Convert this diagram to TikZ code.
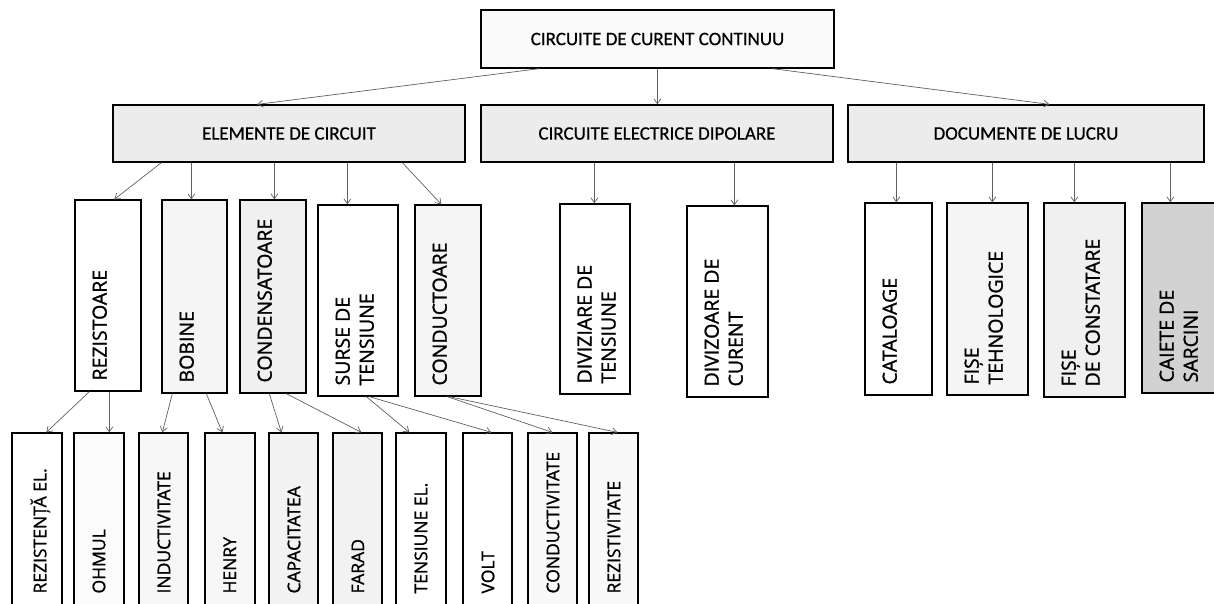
\documentclass[tikz,border=0pt]{standalone}
\usepackage{fontspec}
\setmainfont{Carlito}[FakeBold=0.6]
\newfontfamily\vsans{Open Sans}[FakeBold=1.2]
\usetikzlibrary{arrows.meta}

\begin{document}
\begin{tikzpicture}[x=1pt,y=-1pt,
  hbox/.style={draw, line width=1.3pt, inner sep=0pt, font=\fontsize{19}{22}\selectfont},
  vbox/.style={draw, line width=1.3pt, inner sep=0pt},
  vtxt/.style={rotate=90, anchor=north west, inner sep=0pt, align=left, font=\vsans\fontsize{19.5}{24}\selectfont},
  stxt/.style={vtxt, font=\vsans\fontsize{17.5}{21}\selectfont},
  conn/.style={draw=gray!75!black, line width=0.7pt, -{Straight Barb[length=5pt,width=7pt]}}]
  \useasboundingbox (0,0) rectangle (1214,603);
  \clip (0,0) rectangle (1214,603);

  \node[hbox, fill=gray!4, minimum width=353pt, minimum height=58pt] (cdc) at (657.5,39) {CIRCUITE DE CURENT CONTINUU};
  \node[hbox, fill=gray!15, minimum width=352pt, minimum height=57pt] (elem) at (289,133.5) {ELEMENTE DE CIRCUIT};
  \node[hbox, fill=gray!15, minimum width=352pt, minimum height=57pt] (dipol) at (657,133.5) {CIRCUITE ELECTRICE DIPOLARE};
  \node[hbox, fill=gray!15, minimum width=356pt, minimum height=57pt] (docs) at (1026,133.5) {DOCUMENTE DE LUCRU};

  \foreach \n/\l/\r/\t/\b/\c/\s in {rez/75/141/200/391/white/REZISTOARE,
      bob/162/227/200/393/gray!8/BOBINE,
      cond/240/306/200/393/gray!12/CONDENSATOARE,
      surse/318/398/205/396/white/{SURSE DE\\TENSIUNE},
      condu/415/481/205/396/gray!8/CONDUCTOARE,
      diviz/560/630/204/394/white/{DIVIZIARE DE\\TENSIUNE},
      divcur/687/768/206/397/white/{DIVIZOARE DE\\CURENT},
      cat/865/932/203/395/white/CATALOAGE,
      fte/947/1028/203/395/gray!8/{FIȘE\\TEHNOLOGICE},
      fco/1044/1125/203/397/gray!12/{FIȘE\\DE CONSTATARE},
      cai/1142/1230/203/393/gray!35/{CAIETE DE\\SARCINI}}{
    \node[vbox, fill=\c, minimum width={(\r-\l)*1pt}, minimum height={(\b-\t)*1pt}] (\n) at ({(\l+\r)/2},{(\t+\b)/2}) {};
    \node[vtxt] (\n-t) at ([xshift=18pt,yshift=11pt]\n.south west) {\s};
  }

  \foreach \n/\l/\r/\c/\s in {rel/12/62/white/REZISTENȚĂ EL.,
      ohm/74/124/gray!3/OHMUL,
      ind/139/188/gray!6/INDUCTIVITATE,
      hen/205/255/gray!6/HENRY,
      capac/269/318/gray!10/CAPACITATEA,
      far/333/382/gray!10/FARAD,
      tens/396/446/white/TENSIUNE EL.,
      volt/463/512/white/VOLT,
      cvt/528/577/gray!5/CONDUCTIVITATE,
      rzv/589/638/gray!5/REZISTIVITATE}{
    \node[vbox, fill=\c, minimum width={(\r-\l)*1pt}, minimum height=207pt] (\n) at ({(\l+\r)/2},536.5) {};
    \node[stxt] (\n-t) at ([xshift=19pt,yshift=47pt]\n.south west) {\s};
  }

  \foreach \a/\p/\b/\q in {cdc/59/elem/145, cdc/177/dipol/177, cdc/292/docs/202,
      elem/49/rez/40, elem/79/bob/30, elem/162/cond/35, elem/235/surse/30, elem/290/condu/27,
      dipol/114/diviz/35, dipol/254/divcur/48,
      docs/49/cat/32, docs/145/fte/46, docs/227/fco/31, docs/323/cai/29,
      rez/15/rel/35, rez/35/ohm/36, bob/11/ind/24, bob/45/hen/18,
      cond/30/capac/13, cond/47/far/29, surse/49/tens/14, surse/52/volt/29,
      condu/33/cvt/25, condu/35/rzv/29}
    \draw[conn] ([xshift=\p pt]\a.south west) -- ([xshift=\q pt]\b.north west);
\end{tikzpicture}
\end{document}
